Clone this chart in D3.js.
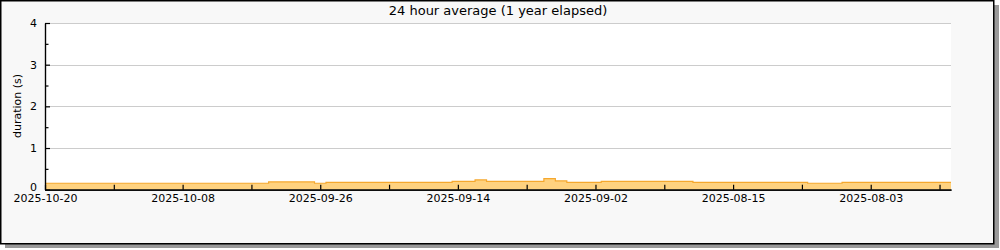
<!DOCTYPE html>
<html>
<head>
<meta charset="utf-8">
<script src="https://cdn.jsdelivr.net/npm/d3@7"></script>
<style>
  body { margin: 0; background: #fff; }
  svg { display: block; font-family: "DejaVu Sans", sans-serif; }
</style>
</head>
<body>
<svg id="chart"></svg>
<script>
let width = 1000
let height = 250

let title = "24 hour average (1 year elapsed)"
let yLabel = "duration (s)"

// daily averages, newest first (index 0 = 2025-10-20)
let values = [
  0.155, 0.155, 0.155, 0.155, 0.155, 0.155, 0.155, 0.155, 0.155, 0.155,
  0.155, 0.155, 0.155, 0.155, 0.155, 0.155, 0.155, 0.155, 0.155, 0.155,
  0.187, 0.187, 0.187, 0.187, 0.155, 0.175, 0.175, 0.175, 0.175, 0.175,
  0.175, 0.175, 0.175, 0.175, 0.175, 0.175, 0.20, 0.20, 0.235, 0.20,
  0.20, 0.20, 0.20, 0.20, 0.265, 0.21, 0.175, 0.175, 0.175, 0.20,
  0.20, 0.20, 0.20, 0.20, 0.20, 0.20, 0.20, 0.175, 0.175, 0.175,
  0.175, 0.175, 0.175, 0.175, 0.175, 0.175, 0.175, 0.155, 0.155, 0.155,
  0.175, 0.175, 0.175, 0.175, 0.175, 0.175, 0.175, 0.175, 0.175, 0.175
]

let xTickLabels = ["2025-10-20", "2025-10-08", "2025-09-26", "2025-09-14", "2025-09-02", "2025-08-15", "2025-08-03"]
let xTickIndex = [0, 12, 24, 36, 48, 60, 72]
let xMinorIndex = [6, 18, 30, 42, 54, 66, 78]
let yTicks = [0, 1, 2, 3, 4]
let yMinor = [0.5, 1.5, 2.5, 3.5]

let plotLeft = 45
let plotRight = 951
let plotTop = 23
let plotBottom = 189.7

let svg = d3.select('#chart')
  .attr('width', width)
  .attr('height', height)

// panel with shadow
svg.append('rect')
  .attr('x', 5).attr('y', 5)
  .attr('width', 994).attr('height', 243)
  .attr('fill', '#9a9a9a')

svg.append('rect')
  .attr('x', 0.75).attr('y', 0.75)
  .attr('width', 993).attr('height', 243)
  .attr('fill', '#f8f8f8')
  .attr('stroke', '#000')
  .attr('stroke-width', 1.5)

let xScale = d3.scaleLinear()
  .domain([0, values.length - 1])
  .range([plotLeft, plotRight])

let yScale = d3.scaleLinear()
  .domain([0, 4])
  .range([plotBottom, plotTop])

svg.append('rect')
  .attr('x', plotLeft).attr('y', plotTop)
  .attr('width', plotRight - plotLeft)
  .attr('height', plotBottom - plotTop)
  .attr('fill', '#fff')

// grid lines
svg.append('g')
  .selectAll('line')
  .data(yTicks.slice(1))
  .enter()
  .append('line')
  .attr('x1', plotLeft)
  .attr('x2', plotRight)
  .attr('y1', (d) => Math.round(yScale(d)) + 0.5)
  .attr('y2', (d) => Math.round(yScale(d)) + 0.5)
  .attr('stroke', '#cccccc')
  .attr('stroke-width', 1)

// area
let area = d3.area()
  .x((d, i) => xScale(i))
  .y0(yScale(0))
  .y1((d) => yScale(d))
  .curve(d3.curveStep)

let line = d3.line()
  .x((d, i) => xScale(i))
  .y((d) => yScale(d))
  .curve(d3.curveStep)

svg.append('path')
  .datum(values)
  .attr('d', area)
  .attr('fill', '#ffd27f')

svg.append('path')
  .datum(values)
  .attr('d', line)
  .attr('fill', 'none')
  .attr('stroke', '#f5a82e')
  .attr('stroke-width', 1.2)

// axes
let xAxis = d3.axisBottom(xScale)
  .tickValues(xTickIndex)
  .tickFormat((d, i) => xTickLabels[i])
  .tickSizeInner(-5)
  .tickSizeOuter(0)
  .tickPadding(5)

let xMinorAxis = d3.axisBottom(xScale)
  .tickValues(xMinorIndex)
  .tickFormat('')
  .tickSizeInner(-5)
  .tickSizeOuter(0)

let yAxis = d3.axisLeft(yScale)
  .tickValues(yTicks)
  .tickFormat(d3.format('d'))
  .tickSizeInner(-5)
  .tickSizeOuter(0)
  .tickPadding(8)

let yMinorAxis = d3.axisLeft(yScale)
  .tickValues(yMinor)
  .tickFormat('')
  .tickSizeInner(-3.5)
  .tickSizeOuter(0)

svg.append('g')
  .attr('transform', 'translate(0, ' + plotBottom + ')')
  .call(xAxis)
svg.append('g')
  .attr('transform', 'translate(0, ' + plotBottom + ')')
  .call(xMinorAxis)

let yg = svg.append('g')
  .attr('transform', 'translate(' + plotLeft + ', 0)')
  .call(yAxis)
svg.append('g')
  .attr('transform', 'translate(' + plotLeft + ', 0)')
  .call(yMinorAxis)

svg.selectAll('.tick text')
  .attr('font-family', '"DejaVu Sans", sans-serif')
  .attr('font-size', 11)
  .attr('fill', '#000')
// keep the "0" label clear of the first date label
yg.selectAll('.tick text').filter((d) => d === 0).attr('dy', '0.05em')
svg.selectAll('.domain, .tick line')
  .attr('stroke', '#000')
  .attr('stroke-width', 1.2)

// title and y label
svg.append('text')
  .attr('x', 498)
  .attr('y', 15)
  .attr('text-anchor', 'middle')
  .style('font-size', '13px')
  .text(title)

svg.append('text')
  .attr('transform', 'translate(21, 106) rotate(-90)')
  .attr('text-anchor', 'middle')
  .style('font-size', '11px')
  .text(yLabel)
</script>
</body>
</html>
